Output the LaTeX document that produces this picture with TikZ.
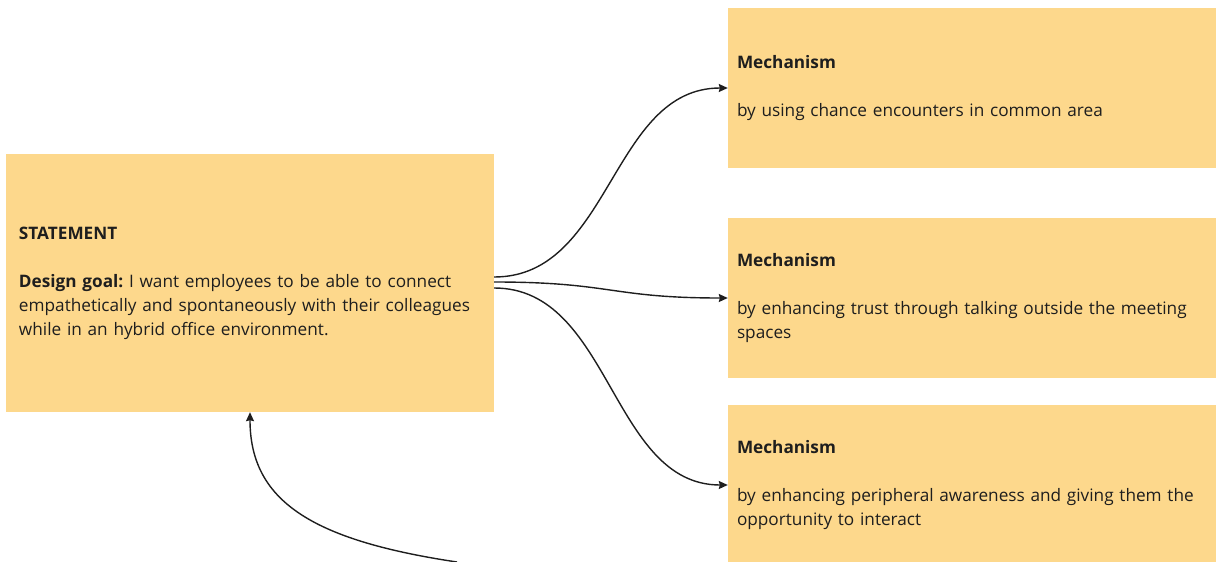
\documentclass[tikz,border=0pt]{standalone}
\usepackage{fontspec}
\setmainfont{Open Sans}
\usetikzlibrary{calc,arrows.meta}
\definecolor{sticky}{RGB}{253,216,140}
\definecolor{ink}{RGB}{30,30,30}
\tikzset{
  card/.style={fill=sticky, draw=none, minimum width=488pt, inner ysep=0pt,
    text width=#1, align=left, text=ink, font=\fontsize{17.2}{24}\selectfont},
  link/.style={draw=ink, line width=1.4pt, -{Stealth[length=9pt,width=8pt,inset=1pt]}}
}
\begin{document}
\begin{tikzpicture}[x=1pt,y=-1pt]
\useasboundingbox (0,0) rectangle (1224,562);
\node[card=462pt, inner xsep=13pt, minimum height=258pt] (stmt) at (250,283)
  {\textbf{STATEMENT}\\[24pt]
   \textbf{Design goal:}~I want employees to be able to connect\\
   empathetically and spontaneously with their colleagues\\
   while in an hybrid office environment.};
\node[card=470pt, inner xsep=9pt, minimum height=160pt] (m1) at (972,88)
  {\textbf{Mechanism}\\[24pt]
   by using chance encounters in common area};
\node[card=470pt, inner xsep=9pt, minimum height=160pt] (m2) at (972,298)
  {\textbf{Mechanism}\\[24pt]
   by enhancing trust through talking outside the meeting\\
   spaces};
\node[card=470pt, inner xsep=9pt, minimum height=160pt] (m3) at (972,485)
  {\textbf{Mechanism}\\[24pt]
   by enhancing peripheral awareness and giving them the\\
   opportunity to interact};
\coordinate (s1) at ($(stmt.east)+(0,-6)$);
\coordinate (s2) at ($(stmt.east)+(0,-1)$);
\coordinate (s3) at ($(stmt.east)+(0,5)$);
\coordinate (loose) at (457,562);
\draw[link] (s1) .. controls ($(s1)+(117,0)$) and ($(m1.west)+(-117,0)$) .. (m1.west);
\draw[link] (s2) .. controls ($(s2)+(117,0)$) and ($(m2.west)+(-117,0)$) .. (m2.west);
\draw[link] (s3) .. controls ($(s3)+(117,0)$) and ($(m3.west)+(-117,0)$) .. (m3.west);
\draw[link] (loose) .. controls (310,540) and (250,500) .. (stmt.south);
\end{tikzpicture}
\end{document}
